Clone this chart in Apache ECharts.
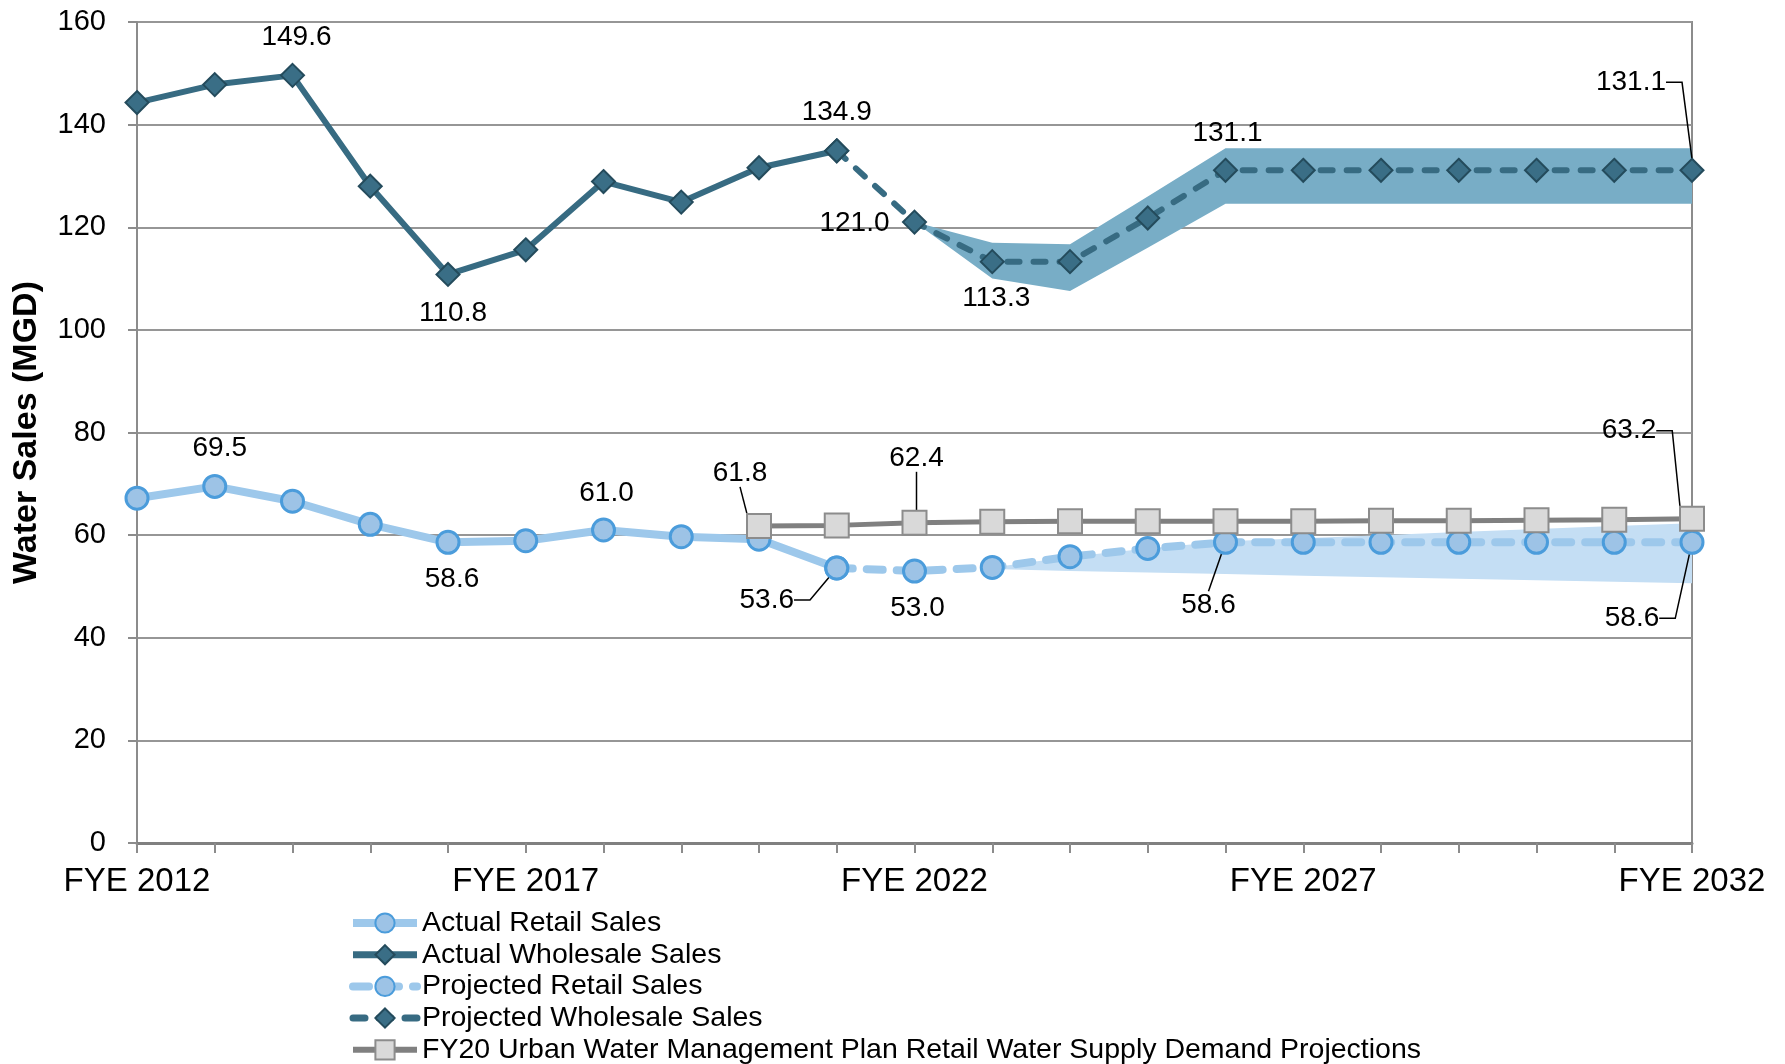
<!DOCTYPE html>
<html>
<head>
<meta charset="utf-8">
<title>Water Sales</title>
<script src="https://cdn.jsdelivr.net/npm/echarts@6/dist/echarts.min.js"></script>
<style>
  html, body { margin: 0; padding: 0; background: #fff; }
  #chart { width: 1785px; height: 1064px; }
</style>
</head>
<body>
<div id="chart"></div>
<script>
const years = ['FYE 2012', 'FYE 2013', 'FYE 2014', 'FYE 2015', 'FYE 2016', 'FYE 2017', 'FYE 2018',
  'FYE 2019', 'FYE 2020', 'FYE 2021', 'FYE 2022', 'FYE 2023', 'FYE 2024', 'FYE 2025', 'FYE 2026',
  'FYE 2027', 'FYE 2028', 'FYE 2029', 'FYE 2030', 'FYE 2031', 'FYE 2032']

const actualRetail = [67.2, 69.5, 66.6, 62.1, 58.6, 58.9, 61.0, 59.7, 59.2, 53.6,
  '-', '-', '-', '-', '-', '-', '-', '-', '-', '-', '-']
const actualWholesale = [144.3, 147.8, 149.6, 128.0, 110.8, 115.6, 128.9, 124.9, 131.6, 134.9,
  '-', '-', '-', '-', '-', '-', '-', '-', '-', '-', '-']
const projectedRetail = ['-', '-', '-', '-', '-', '-', '-', '-', '-', 53.6,
  53.0, 53.7, 55.8, 57.4, 58.6, 58.6, 58.6, 58.6, 58.6, 58.6, 58.6]
const projectedWholesale = ['-', '-', '-', '-', '-', '-', '-', '-', '-', 134.9,
  121.0, 113.3, 113.3, 121.8, 131.1, 131.1, 131.1, 131.1, 131.1, 131.1, 131.1]
const uwmpRetail = ['-', '-', '-', '-', '-', '-', '-', '-', 61.8, 61.9,
  62.4, 62.6, 62.7, 62.7, 62.7, 62.7, 62.8, 62.8, 62.9, 63.0, 63.2]

// projection ranges (shaded)
const wholesaleLow = ['-', '-', '-', '-', '-', '-', '-', '-', '-', '-',
  121.0, 110.0, 107.6, 116.0, 124.6, 124.6, 124.6, 124.6, 124.6, 124.6, 124.6]
const wholesaleHigh = ['-', '-', '-', '-', '-', '-', '-', '-', '-', '-',
  121.0, 117.0, 116.7, 126.0, 135.4, 135.4, 135.4, 135.4, 135.4, 135.4, 135.4]
const retailLow = ['-', '-', '-', '-', '-', '-', '-', '-', '-', '-',
  '-', 53.4, 53.0, 52.7, 52.4, 52.1, 51.8, 51.5, 51.2, 50.9, 50.6]
const retailHigh = ['-', '-', '-', '-', '-', '-', '-', '-', '-', '-',
  '-', 53.7, 55.8, 57.4, 58.8, 59.4, 60.0, 60.6, 61.2, 61.8, 62.3]

const yTicks = { min: 0, max: 160, interval: 20 }

const FONT = 'Liberation Sans'

// label placement: index -> [dx, dy, leader]
const retailSpots = { 1: [5, -38], 4: [4, 37], 6: [3, -37], 9: [-70, 32, 'right'] }
const wholesaleSpots = { 2: [4, -38], 4: [5, 39], 9: [0, -39] }
const projRetailSpots = { 10: [3, 37], 14: [-17, 63, 'near'], 20: [-60, 76, 'right'] }
const projWholesaleSpots = { 10: [-60, 1], 11: [4, 37], 14: [2, -37], 20: [-61, -88, 'right'] }
const uwmpSpots = { 8: [-19, -53, 'near'], 10: [2, -65, 'near'], 20: [-63, -88, 'right'] }

function withLabels (values, spots) {
  return values.map((v, i) => {
    const s = spots[i]
    if (!s) return v
    // a wide empty box on the left makes the leader leave from the label's right side
    const pad = s[2] === 'right' ? 60 : 0
    return {
      value: v,
      label: {
        show: true,
        position: 'inside',
        align: 'center',
        verticalAlign: 'middle',
        offset: [s[0] - pad / 2, s[1]],
        padding: [0, 0, 0, pad],
        backgroundColor: pad ? 'rgba(255,255,255,0)' : null,
        formatter: p => Number(p.value).toFixed(1),
        color: '#000',
        fontSize: 28,
        fontFamily: FONT
      },
      labelLine: {
        show: !!s[2],
        length2: s[2] === 'right' ? 16 : 0,
        lineStyle: { color: '#000', width: 1.5 }
      }
    }
  })
}

function diff (hi, lo) {
  return hi.map((v, i) => (v === '-' ? '-' : +(v - lo[i]).toFixed(2)))
}

const chart = echarts.init(document.getElementById('chart'))

const bandBase = {
  type: 'line',
  symbol: 'none',
  silent: true,
  lineStyle: { opacity: 0 }
}

chart.setOption({
  animation: false,
  textStyle: { fontFamily: FONT },
  grid: {
    left: 137,
    right: 93,
    top: 22,
    bottom: 221,
    show: true,
    borderColor: '#8c8c8c',
    borderWidth: 2
  },
  legend: {
    orient: 'vertical',
    left: 349,
    top: 908.5,
    height: 180,
    padding: 0,
    itemWidth: 64,
    itemHeight: 24,
    itemGap: 2.7,
    textStyle: { fontSize: 28.5, color: '#000', fontFamily: FONT, lineHeight: 24 },
    data: [
      { name: 'Actual Retail Sales', lineStyle: { width: 8 } },
      { name: 'Actual Wholesale Sales', lineStyle: { width: 7 } },
      { name: 'Projected Retail Sales', lineStyle: { width: 8 } },
      { name: 'Projected Wholesale Sales', lineStyle: { width: 7 } },
      { name: 'FY20 Urban Water Management Plan Retail Water Supply Demand Projections', lineStyle: { width: 6 } }
    ]
  },
  xAxis: {
    type: 'category',
    data: years,
    boundaryGap: false,
    axisLine: { lineStyle: { color: '#808080', width: 3 } },
    axisTick: { show: true, interval: 0, length: 10, lineStyle: { color: '#8c8c8c', width: 2 } },
    axisLabel: { interval: 4, margin: 22, fontSize: 33, color: '#000', fontFamily: FONT },
    splitLine: { show: false }
  },
  yAxis: {
    type: 'value',
    min: yTicks.min,
    max: yTicks.max,
    interval: yTicks.interval,
    name: 'Water Sales (MGD)',
    nameLocation: 'middle',
    nameGap: 93,
    nameTextStyle: { fontSize: 34, fontWeight: 'bold', color: '#000', fontFamily: FONT },
    axisLine: { show: true, lineStyle: { color: '#8c8c8c', width: 2 } },
    axisTick: { show: true, length: 9, lineStyle: { color: '#8c8c8c', width: 2 } },
    axisLabel: { margin: 31, fontSize: 29, color: '#000', fontFamily: FONT },
    splitLine: { lineStyle: { color: '#969696', width: 2 } }
  },
  series: [
    Object.assign({}, bandBase, { name: 'retailLow', stack: 'retailBand', data: retailLow }),
    Object.assign({}, bandBase, {
      name: 'retailRange',
      stack: 'retailBand',
      data: diff(retailHigh, retailLow),
      areaStyle: { color: '#c4def4', opacity: 1 }
    }),
    Object.assign({}, bandBase, { name: 'wholesaleLow', stack: 'wholesaleBand', data: wholesaleLow }),
    Object.assign({}, bandBase, {
      name: 'wholesaleRange',
      stack: 'wholesaleBand',
      data: diff(wholesaleHigh, wholesaleLow),
      areaStyle: { color: '#78adc6', opacity: 1 }
    }),
    {
      name: 'Actual Retail Sales',
      type: 'line',
      data: withLabels(actualRetail, retailSpots),
      symbol: 'circle',
      symbolSize: 22,
      lineStyle: { color: '#9dc8eb', width: 8 },
      itemStyle: { color: '#9dc3e6', borderColor: '#4b9cdb', borderWidth: 3 }
    },
    {
      name: 'Projected Retail Sales',
      type: 'line',
      data: withLabels(projectedRetail, projRetailSpots),
      symbol: 'circle',
      symbolSize: 22,
      lineStyle: { color: '#9dc8eb', width: 8, type: [16, 14], cap: 'round' },
      itemStyle: { color: '#9dc3e6', borderColor: '#4b9cdb', borderWidth: 3 }
    },
    {
      name: 'FY20 Urban Water Management Plan Retail Water Supply Demand Projections',
      type: 'line',
      data: withLabels(uwmpRetail, uwmpSpots),
      symbol: 'rect',
      symbolSize: 24,
      lineStyle: { color: '#808080', width: 5 },
      itemStyle: { color: '#d9d9d9', borderColor: '#8c8c8c', borderWidth: 2 }
    },
    {
      name: 'Actual Wholesale Sales',
      type: 'line',
      data: withLabels(actualWholesale, wholesaleSpots),
      symbol: 'diamond',
      symbolSize: 23,
      lineStyle: { color: '#376b82', width: 6 },
      itemStyle: { color: '#3a6e86', borderColor: '#244b5c', borderWidth: 2 }
    },
    {
      name: 'Projected Wholesale Sales',
      type: 'line',
      data: withLabels(projectedWholesale, projWholesaleSpots),
      symbol: 'diamond',
      symbolSize: 23,
      lineStyle: { color: '#376b82', width: 6, type: [12, 14], cap: 'round' },
      itemStyle: { color: '#3a6e86', borderColor: '#244b5c', borderWidth: 2 }
    }
  ]
})
</script>
</body>
</html>
